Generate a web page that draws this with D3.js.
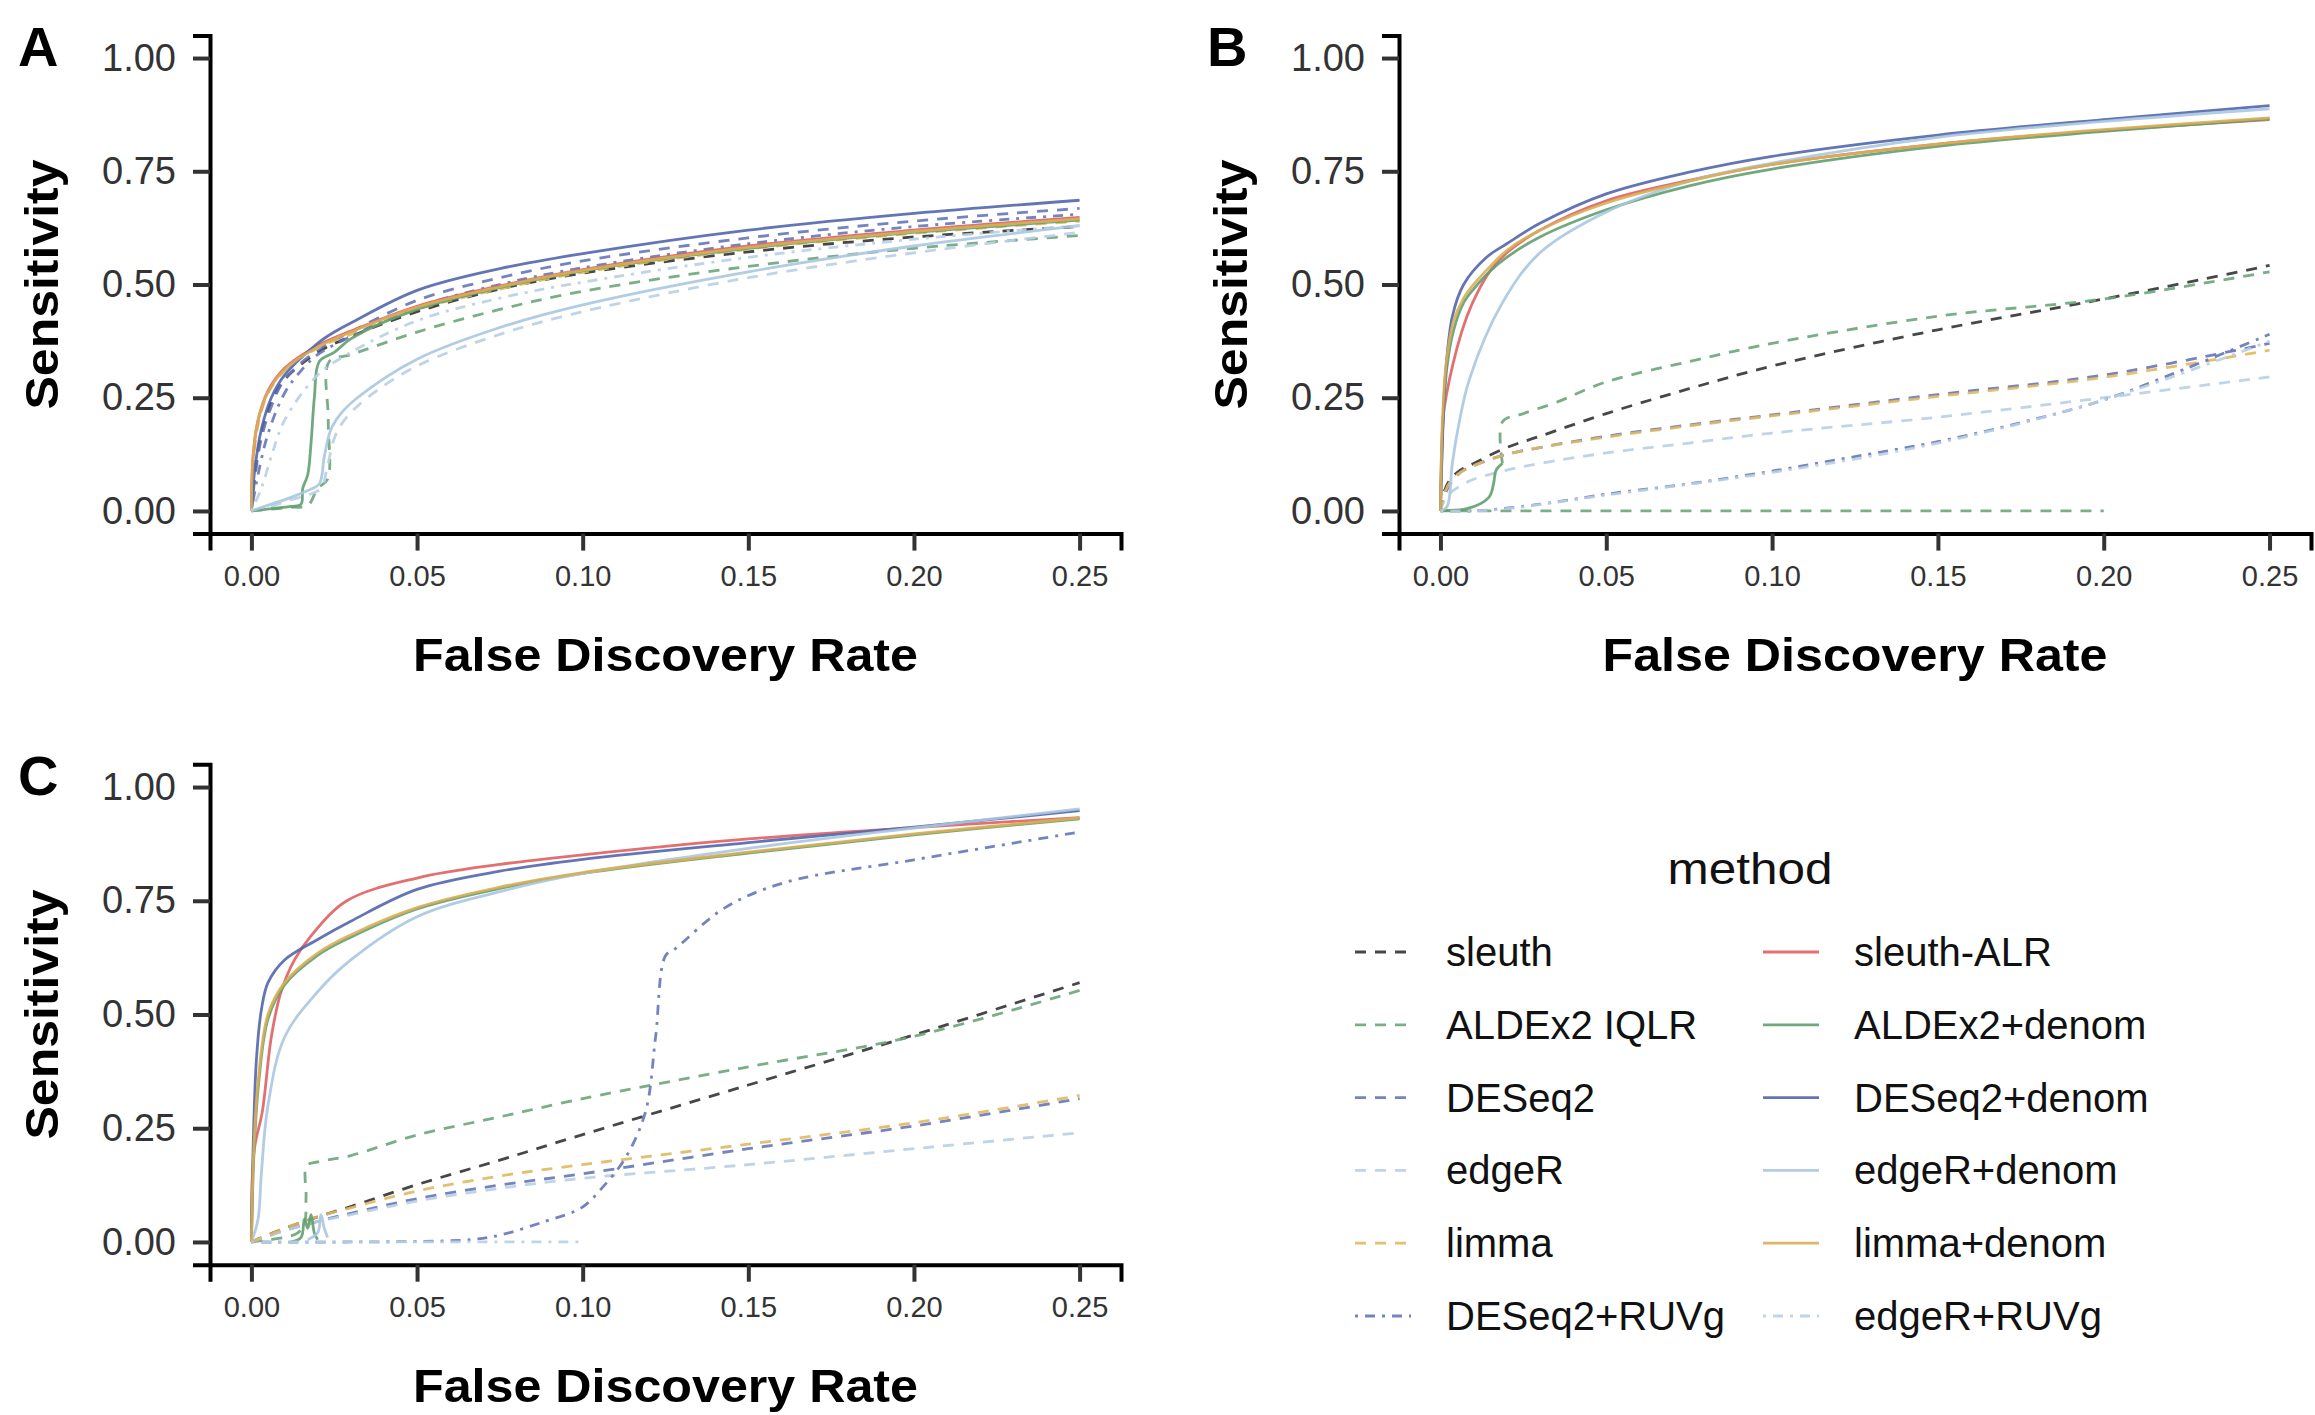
<!DOCTYPE html>
<html>
<head>
<meta charset="utf-8">
<script src="https://cdn.jsdelivr.net/npm/d3@7"></script>
<style>
  body { margin: 0; background: #fff; }
  text { font-family: "Liberation Sans", Arial, Helvetica, sans-serif; }
</style>
</head>
<body>
<script>
// FDR vs sensitivity, three simulation panels + shared legend

const methods = ["sleuth", "ALDEx2 IQLR", "DESeq2", "edgeR", "limma", "DESeq2+RUVg",
                 "sleuth-ALR", "ALDEx2+denom", "DESeq2+denom", "edgeR+denom", "limma+denom", "edgeR+RUVg"];
const xTicks = [0, 0.05, 0.10, 0.15, 0.20, 0.25];
const yTicks = [0, 0.25, 0.50, 0.75, 1.00];

// points are [FDR, sensitivity]; null breaks a line
const panelA = {
  "sleuth":       [[0,0],[0.001,0.08],[0.003,0.17],[0.006,0.24],[0.01,0.29],[0.02,0.35],[0.03,0.385],[0.05,0.44],[0.075,0.49],[0.1,0.525],[0.15,0.572],[0.2,0.605],[0.25,0.628]],
  "ALDEx2 IQLR":  [[0,0],[0.006,0.004],[0.012,0.008],[0.017,0.012],[0.02,0.05],[0.023,0.07],[0.0232,0.2],[0.0235,0.33],[0.03,0.345],[0.05,0.395],[0.075,0.445],[0.1,0.485],[0.15,0.54],[0.2,0.58],[0.25,0.608]],
  "DESeq2":       [[0,0],[0.001,0.07],[0.003,0.16],[0.006,0.23],[0.01,0.29],[0.02,0.355],[0.03,0.395],[0.05,0.465],[0.075,0.515],[0.1,0.552],[0.15,0.603],[0.2,0.64],[0.25,0.668]],
  "edgeR":        [[0,0],[0.006,0.01],[0.012,0.025],[0.017,0.035],[0.021,0.05],[0.023,0.1],[0.025,0.16],[0.028,0.2],[0.035,0.25],[0.05,0.32],[0.075,0.39],[0.1,0.44],[0.15,0.515],[0.2,0.57],[0.25,0.615]],
  "limma":        [[0,0],[0.0005,0.1],[0.002,0.19],[0.005,0.26],[0.01,0.31],[0.02,0.36],[0.03,0.39],[0.05,0.445],[0.075,0.49],[0.1,0.527],[0.15,0.578],[0.2,0.613],[0.25,0.64]],
  "DESeq2+RUVg":  [[0,0],[0.002,0.08],[0.005,0.17],[0.01,0.26],[0.015,0.31],[0.02,0.345],[0.03,0.385],[0.05,0.45],[0.075,0.5],[0.1,0.537],[0.15,0.59],[0.2,0.628],[0.25,0.655]],
  "sleuth-ALR":   [[0,0],[0.0005,0.12],[0.002,0.2],[0.005,0.265],[0.01,0.315],[0.02,0.365],[0.03,0.397],[0.05,0.452],[0.075,0.497],[0.1,0.533],[0.15,0.585],[0.2,0.62],[0.25,0.648]],
  "ALDEx2+denom": [[0,0],[0.006,0.005],[0.012,0.01],[0.015,0.015],[0.0155,0.05],[0.017,0.08],[0.018,0.15],[0.019,0.25],[0.0205,0.33],[0.025,0.35],[0.03,0.38],[0.05,0.445],[0.075,0.493],[0.1,0.53],[0.15,0.58],[0.2,0.615],[0.25,0.642]],
  "DESeq2+denom": [[0,0],[0.001,0.09],[0.003,0.18],[0.006,0.25],[0.01,0.3],[0.02,0.37],[0.025,0.395],[0.03,0.415],[0.05,0.487],[0.075,0.535],[0.1,0.568],[0.15,0.62],[0.2,0.657],[0.25,0.686]],
  "edgeR+denom":  [[0,0],[0.006,0.015],[0.012,0.03],[0.017,0.045],[0.0205,0.06],[0.022,0.12],[0.024,0.18],[0.027,0.215],[0.032,0.25],[0.05,0.335],[0.075,0.405],[0.1,0.455],[0.15,0.528],[0.2,0.585],[0.25,0.63]],
  "limma+denom":  [[0,0],[0.0005,0.12],[0.002,0.2],[0.005,0.262],[0.01,0.312],[0.02,0.362],[0.03,0.395],[0.05,0.45],[0.075,0.495],[0.1,0.531],[0.15,0.582],[0.2,0.617],[0.25,0.645]],
  "edgeR+RUVg":   [[0,0],[0.003,0.05],[0.006,0.12],[0.01,0.2],[0.02,0.3],[0.03,0.35],[0.05,0.42],[0.075,0.47],[0.1,0.505],[0.15,0.56],[0.2,0.6],[0.25,0.63]]
};

const panelB = {
  "sleuth":       [[0,0],[0.001,0.04],[0.003,0.07],[0.006,0.09],[0.01,0.105],[0.02,0.14],[0.03,0.165],[0.05,0.215],[0.075,0.27],[0.1,0.32],[0.15,0.4],[0.2,0.468],[0.25,0.542]],
  "ALDEx2 IQLR":  [[0,0],[0.2,0],null,[0.0187,0.105],[0.0187,0.197],[0.025,0.215],[0.035,0.24],[0.05,0.285],[0.075,0.33],[0.1,0.37],[0.15,0.43],[0.2,0.468],[0.25,0.528]],
  "DESeq2":       [[0,0],[0.001,0.03],[0.003,0.06],[0.006,0.085],[0.01,0.1],[0.02,0.125],[0.03,0.14],[0.05,0.165],[0.075,0.19],[0.1,0.212],[0.15,0.257],[0.2,0.3],[0.25,0.37]],
  "edgeR":        [[0,0],[0.001,0.02],[0.003,0.04],[0.006,0.055],[0.01,0.07],[0.02,0.09],[0.03,0.105],[0.05,0.128],[0.075,0.15],[0.1,0.172],[0.15,0.207],[0.2,0.25],[0.25,0.296]],
  "limma":        [[0,0],[0.001,0.035],[0.003,0.065],[0.006,0.085],[0.01,0.1],[0.02,0.125],[0.03,0.14],[0.05,0.163],[0.075,0.188],[0.1,0.21],[0.15,0.253],[0.2,0.295],[0.25,0.355]],
  "DESeq2+RUVg":  [[0,0],[0.01,0],[0.02,0.006],[0.035,0.02],[0.05,0.037],[0.075,0.06],[0.1,0.088],[0.125,0.12],[0.15,0.153],[0.175,0.195],[0.2,0.245],[0.225,0.315],[0.25,0.39]],
  "sleuth-ALR":   [[0,0],[0.0006,0.18],[0.0012,0.23],[0.005,0.36],[0.008,0.43],[0.011,0.48],[0.015,0.53],[0.02,0.57],[0.03,0.62],[0.05,0.685],[0.075,0.73],[0.1,0.765],[0.15,0.81],[0.2,0.84],[0.25,0.864]],
  "ALDEx2+denom": [[0,0],[0.0008,0.2],[0.002,0.32],[0.004,0.4],[0.007,0.46],[0.01,0.49],[0.015,0.53],[0.02,0.56],[0.03,0.605],[0.05,0.665],[0.075,0.718],[0.1,0.755],[0.15,0.805],[0.2,0.838],[0.25,0.866],
                   null,[0,0.002],[0.008,0.005],[0.0146,0.03],[0.016,0.06],[0.0168,0.09],[0.0187,0.105]],
  "DESeq2+denom": [[0,0],[0.0005,0.13],[0.0015,0.3],[0.0036,0.43],[0.007,0.5],[0.0139,0.56],[0.02,0.59],[0.03,0.635],[0.05,0.7],[0.075,0.748],[0.1,0.783],[0.15,0.83],[0.2,0.864],[0.25,0.895]],
  "edgeR+denom":  [[0,0],[0.002,0.01],[0.0035,0.1],[0.005,0.17],[0.0087,0.29],[0.0187,0.46],[0.03,0.57],[0.05,0.66],[0.075,0.728],[0.1,0.768],[0.15,0.825],[0.2,0.86],[0.25,0.888]],
  "limma+denom":  [[0,0],[0.0006,0.2],[0.0018,0.33],[0.004,0.42],[0.007,0.47],[0.01,0.5],[0.015,0.54],[0.02,0.575],[0.03,0.62],[0.05,0.68],[0.075,0.728],[0.1,0.765],[0.15,0.81],[0.2,0.842],[0.25,0.868]],
  "edgeR+RUVg":   [[0,0],[0.01,0],[0.02,0.005],[0.05,0.035],[0.1,0.085],[0.15,0.15],[0.2,0.245],[0.25,0.375]]
};

const panelC = {
  "sleuth":       [[0,0],[0.005,0.015],[0.01,0.03],[0.02,0.055],[0.03,0.078],[0.05,0.126],[0.075,0.18],[0.1,0.236],[0.15,0.345],[0.2,0.455],[0.25,0.57]],
  "ALDEx2 IQLR":  [[0,0],[0.005,0.005],[0.01,0.01],[0.014,0.02],[0.016,0.04],[0.0165,0.1],[0.0167,0.168],[0.02,0.176],[0.03,0.19],[0.05,0.235],[0.075,0.275],[0.1,0.315],[0.15,0.385],[0.2,0.452],[0.25,0.553]],
  "DESeq2":       [[0,0],[0.01,0.025],[0.02,0.045],[0.03,0.063],[0.05,0.095],[0.075,0.125],[0.1,0.15],[0.15,0.205],[0.2,0.255],[0.25,0.315]],
  "edgeR":        [[0,0],[0.01,0.025],[0.02,0.045],[0.03,0.06],[0.05,0.09],[0.075,0.118],[0.1,0.14],[0.15,0.17],[0.2,0.205],[0.25,0.24]],
  "limma":        [[0,0],[0.01,0.03],[0.02,0.055],[0.03,0.075],[0.05,0.112],[0.075,0.145],[0.1,0.17],[0.15,0.215],[0.2,0.262],[0.25,0.322]],
  "DESeq2+RUVg":  [[0,0],[0.03,0],[0.066,0.005],[0.075,0.015],[0.0885,0.045],[0.0996,0.075],[0.106,0.12],[0.113,0.186],[0.119,0.287],[0.122,0.45],[0.125,0.629],[0.128,0.645],[0.143,0.735],[0.161,0.79],[0.2,0.84],[0.25,0.901]],
  "sleuth-ALR":   [[0,0],[0.0008,0.2],[0.0033,0.287],[0.006,0.45],[0.0089,0.549],[0.013,0.62],[0.0177,0.67],[0.0288,0.75],[0.05,0.8],[0.075,0.83],[0.1,0.851],[0.15,0.886],[0.2,0.911],[0.25,0.933]],
  "ALDEx2+denom": [[0,0],[0.0008,0.2],[0.0022,0.35],[0.005,0.49],[0.01,0.565],[0.02,0.63],[0.03,0.67],[0.05,0.732],[0.075,0.777],[0.1,0.81],[0.15,0.855],[0.2,0.895],[0.25,0.93],
                   null,[0.012,0],[0.015,0.01],[0.016,0.05],[0.017,0.03],[0.018,0.06],[0.019,0.02],[0.02,0.005]],
  "DESeq2+denom": [[0,0],[0.0005,0.2],[0.0015,0.4],[0.003,0.51],[0.005,0.57],[0.01,0.62],[0.02,0.665],[0.03,0.705],[0.05,0.775],[0.075,0.815],[0.1,0.841],[0.15,0.878],[0.2,0.912],[0.25,0.948]],
  "edgeR+denom":  [[0,0],[0.002,0.05],[0.003,0.15],[0.005,0.3],[0.01,0.45],[0.02,0.55],[0.03,0.62],[0.05,0.715],[0.075,0.77],[0.1,0.81],[0.15,0.865],[0.2,0.91],[0.25,0.952],
                   null,[0.017,0.005],[0.02,0.02],[0.021,0.06],[0.022,0.03],[0.023,0.01]],
  "limma+denom":  [[0,0],[0.0007,0.2],[0.002,0.35],[0.005,0.5],[0.01,0.57],[0.02,0.635],[0.03,0.675],[0.05,0.735],[0.075,0.78],[0.1,0.812],[0.15,0.857],[0.2,0.897],[0.25,0.932]],
  "edgeR+RUVg":   [[0,0],[0.1,0]]
};

// styling per method (same order as methods)
const methodColor = ["#333333", "#6aa57a", "#6677b8", "#b9cfe6", "#e0b860", "#6677b8",
                     "#e06060", "#62a070", "#5366ad", "#a9c6e0", "#d9ae55", "#b9cfe6"];
const methodDash  = ["11,9", "11,9", "11,9", "11,9", "11,9", "3,7,10,7",
                     null, null, null, null, null, "3,7,10,7"];

const W = 2315, H = 1415;
const svg = d3.select("body").append("svg").attr("width", W).attr("height", H);
svg.append("rect").attr("width", W).attr("height", H).attr("fill", "#fff");

const panels = [
  { tag: "A", data: panelA, left: 210,  right: 1121, top: 35.4,  bottom: 533.6 },
  { tag: "B", data: panelB, left: 1399, right: 2311, top: 35.4,  bottom: 533.6 },
  { tag: "C", data: panelC, left: 210,  right: 1121, top: 764.3, bottom: 1264.7 }
];

panels.forEach(p => {
  const x = d3.scaleLinear().domain([-0.0125, 0.2625]).range([p.left, p.right]);
  const y = d3.scaleLinear().domain([-0.05, 1.05]).range([p.bottom, p.top]);

  // lines first, axes on top
  const line = d3.line().defined(d => d !== null)
    .x(d => x(d[0])).y(d => y(d[1]))
    .curve(d3.curveCatmullRom.alpha(0.5));
  const g = svg.append("g");
  methods.forEach((m, i) => {
    const pts = p.data[m];
    if (!pts) return;
    g.append("path").attr("d", line(pts))
      .attr("fill", "none")
      .attr("stroke", methodColor[i])
      .attr("stroke-width", 2.8)
      .attr("stroke-opacity", 0.9)
      .attr("stroke-dasharray", methodDash[i]);
  });

  const gx = svg.append("g").attr("transform", `translate(0,${p.bottom})`)
    .call(d3.axisBottom(x).tickValues(xTicks).tickFormat(d3.format(".2f"))
      .tickSizeOuter(0).tickSize(17).tickPadding(15));
  const gy = svg.append("g").attr("transform", `translate(${p.left},0)`)
    .call(d3.axisLeft(y).tickValues(yTicks).tickFormat(d3.format(".2f"))
      .tickSizeOuter(0).tickSize(17).tickPadding(17));
  [gx, gy].forEach(a => {
    a.select(".domain").attr("stroke", "#000").attr("stroke-width", 4);
    a.selectAll(".tick line").attr("stroke", "#333").attr("stroke-width", 4);
    a.selectAll(".tick text").attr("fill", "#333")
      .style("font-family", "'Liberation Sans', Arial, sans-serif");
  });
  gx.selectAll(".tick text").attr("font-size", 29);
  gy.selectAll(".tick text").attr("font-size", 38);

  // axis titles
  svg.append("text")
    .attr("x", (p.left + p.right) / 2).attr("y", p.bottom + 137)
    .attr("text-anchor", "middle").attr("font-weight", "bold").attr("font-size", 47)
    .attr("textLength", 505).attr("lengthAdjust", "spacingAndGlyphs")
    .attr("fill", "#000").text("False Discovery Rate");
  svg.append("text")
    .attr("transform", `translate(${p.left - 152},${(p.top + p.bottom) / 2}) rotate(-90)`)
    .attr("text-anchor", "middle").attr("font-weight", "bold").attr("font-size", 47)
    .attr("textLength", 250).attr("lengthAdjust", "spacingAndGlyphs")
    .attr("fill", "#000").text("Sensitivity");

  // panel tag
  svg.append("text")
    .attr("x", p.left - 192).attr("y", p.top + 31)
    .attr("font-weight", "bold").attr("font-size", 56)
    .attr("fill", "#000").text(p.tag);
});

// legend, two columns filled column-wise
const legend = svg.append("g");
legend.append("text").attr("x", 1750).attr("y", 884)
  .attr("text-anchor", "middle").attr("font-size", 44)
  .attr("textLength", 165).attr("lengthAdjust", "spacingAndGlyphs")
  .attr("fill", "#111").text("method");

const colX = [1355, 1763];
const rowY0 = 952, rowStep = 72.8;
methods.forEach((m, i) => {
  const col = Math.floor(i / 6), row = i % 6;
  const cy = rowY0 + row * rowStep;
  const kx = colX[col];
  legend.append("line")
    .attr("x1", kx).attr("x2", kx + 56).attr("y1", cy).attr("y2", cy)
    .attr("stroke", methodColor[i]).attr("stroke-width", 2.8).attr("stroke-opacity", 0.9)
    .attr("stroke-dasharray", methodDash[i] ? (i === 5 || i === 11 ? "3,7,10,7" : "11,9") : null);
  legend.append("text")
    .attr("x", kx + 91).attr("y", cy + 14)
    .attr("font-size", 40).attr("fill", "#111").text(m);
});
</script>
</body>
</html>
